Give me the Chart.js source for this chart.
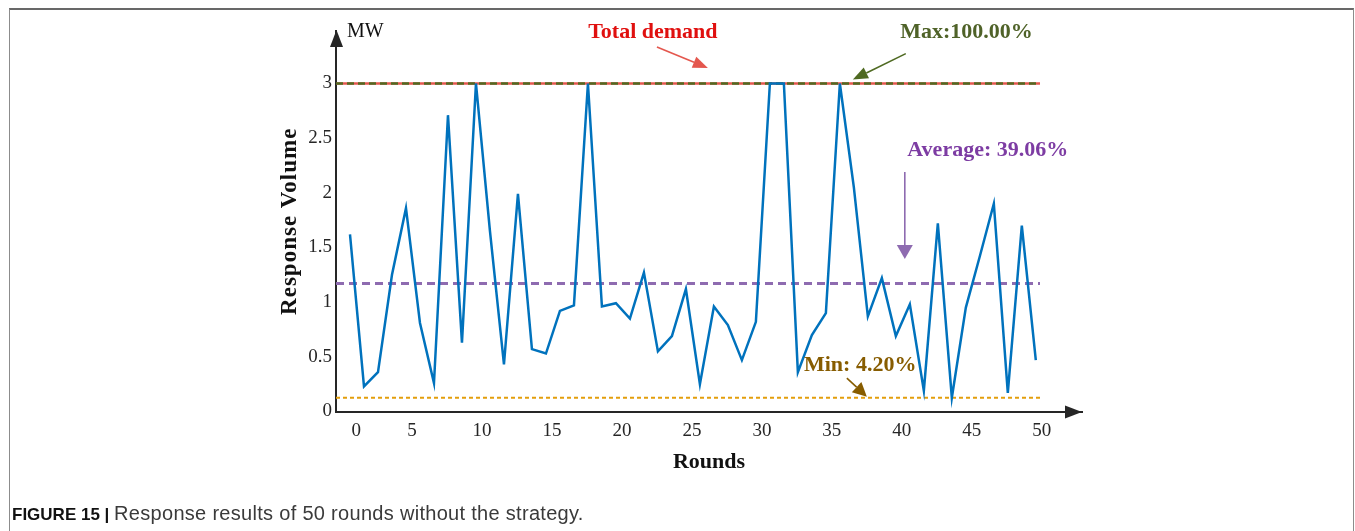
<!DOCTYPE html>
<html>
<head>
<meta charset="utf-8">
<script src="https://cdn.jsdelivr.net/npm/chart.js@4.4.1/dist/chart.umd.min.js"></script>
<style>
  html, body { margin: 0; padding: 0; background: #fff; }
  body { width: 1355px; height: 531px; position: relative; overflow: hidden; }
  #frame { position: absolute; left: 9px; top: 8px; width: 1345px; height: 540px;
           border-top: 2px solid #686868; border-left: 1px solid #8c8c8c; border-right: 1px solid #8c8c8c;
           box-sizing: border-box; }
  #chart { position: absolute; left: 0; top: 0; }
  #caption { position: absolute; left: 12px; top: 502px; white-space: nowrap;
             font-family: "Liberation Sans Narrow", "Liberation Sans", Arial, sans-serif;
             font-size: 17px; color: #3a3a3a; }
  #caption b { color: #111; }
  #caption span { font-size: 20px; letter-spacing: 0.3px; }
</style>
</head>
<body>
<div id="frame"></div>
<canvas id="chart" width="1355" height="531"></canvas>
<div id="caption"><b>FIGURE 15 |</b> <span>Response results of 50 rounds without the strategy.</span></div>
<script>
// Rounds and the response volume (MW) delivered in each round
const rounds = [1, 2, 3, 4, 5, 6, 7, 8, 9, 10,
                11, 12, 13, 14, 15, 16, 17, 18, 19, 20,
                21, 22, 23, 24, 25, 26, 27, 28, 29, 30,
                31, 32, 33, 34, 35, 36, 37, 38, 39, 40,
                41, 42, 43, 44, 45, 46, 47, 48, 49, 50];
const responseMW = [1.62, 0.23, 0.36, 1.25, 1.86, 0.81, 0.26, 2.71, 0.63, 3.00,
                    1.65, 0.43, 1.99, 0.57, 0.53, 0.92, 0.97, 3.00, 0.96, 0.99,
                    0.85, 1.27, 0.55, 0.69, 1.12, 0.25, 0.96, 0.79, 0.47, 0.82,
                    3.00, 3.00, 0.36, 0.70, 0.90, 3.00, 2.05, 0.87, 1.22, 0.69,
                    0.98, 0.19, 1.72, 0.126, 0.95, 1.42, 1.90, 0.17, 1.70, 0.47];

// Total demand and the shares reached (max / average / min)
const totalDemand = 3;
const maxShare = 1.0;
const avgShare = 0.3906;
const minShare = 0.042;
const refSpan = [0, 50.3];

// Axis ticks
const xTickValues = [0, 5, 10, 15, 20, 25, 30, 35, 40, 45, 50];
const xTickLabels = ['      0', '5', '10', '15', '20', '25', '30', '35', '40', '45', '50'];
const yTickValues = [0, 0.5, 1, 1.5, 2, 2.5, 3];
const yTickLabels = ['0', '0.5', '1', '1.5', '2', '2.5', '3'];
const yTitle = 'Response Volume';
const unitLabel = 'MW';

const serif = '"Liberation Serif", "Times New Roman", serif';

function hLine(level) {
  return refSpan.map(v => ({ x: v, y: level }));
}

// Callout texts and arrows, placed in axis units
const notes = [
  { text: 'Total demand',     x: 22.64, y: 3.471, color: '#E0100F' },
  { text: 'Max:100.00%',      x: 45.05, y: 3.471, color: '#4F6228' },
  { text: 'Average: 39.06%',  x: 46.57, y: 2.392, color: '#7D3CA3' },
  { text: 'Min: 4.20%',       x: 37.45, y: 0.425, color: '#875C00' }
];
const arrows = [
  { from: [22.93, 3.334], to: [26.57, 3.142], color: '#E4574E', head: 15, half: 6 },
  { from: [40.71, 3.273], to: [36.93, 3.036], color: '#4F6A22', head: 15, half: 6 },
  { from: [40.64, 2.190], to: [40.64, 1.395], color: '#8E6BB0', head: 14, half: 8 },
  { from: [36.50, 0.306], to: [37.93, 0.136], color: '#875C00', head: 14, half: 7 }
];

function drawArrow(ctx, x0, y0, x1, y1, color, head, half) {
  const ang = Math.atan2(y1 - y0, x1 - x0);
  const bx = x1 - head * Math.cos(ang), by = y1 - head * Math.sin(ang);
  ctx.strokeStyle = color;
  ctx.fillStyle = color;
  ctx.lineWidth = 1.6;
  ctx.setLineDash([]);
  ctx.beginPath();
  ctx.moveTo(x0, y0);
  ctx.lineTo(bx, by);
  ctx.stroke();
  ctx.beginPath();
  ctx.moveTo(x1, y1);
  ctx.lineTo(bx + half * Math.sin(ang), by - half * Math.cos(ang));
  ctx.lineTo(bx - half * Math.sin(ang), by + half * Math.cos(ang));
  ctx.closePath();
  ctx.fill();
}

const calloutPlugin = {
  id: 'callouts',
  afterDatasetsDraw(chart) {
    const { ctx, chartArea, scales: { x, y } } = chart;
    ctx.save();

    // axis arrowheads
    ctx.fillStyle = '#262626';
    ctx.beginPath();
    ctx.moveTo(chartArea.left + 0.5, chartArea.top - 1);
    ctx.lineTo(chartArea.left + 7, chartArea.top + 16);
    ctx.lineTo(chartArea.left - 6, chartArea.top + 16);
    ctx.closePath();
    ctx.fill();
    ctx.beginPath();
    ctx.moveTo(chartArea.right, chartArea.bottom + 0.5);
    ctx.lineTo(chartArea.right - 17, chartArea.bottom - 6);
    ctx.lineTo(chartArea.right - 17, chartArea.bottom + 7);
    ctx.closePath();
    ctx.fill();

    // unit label
    ctx.font = '20px ' + serif;
    ctx.fillStyle = '#111';
    ctx.textAlign = 'left';
    ctx.textBaseline = 'middle';
    ctx.fillText(unitLabel, chartArea.left + 11, chartArea.top + 1);

    // vertical axis title (spaced bold serif)
    ctx.save();
    ctx.translate(y.left + 20, (chartArea.top + chartArea.bottom) / 2);
    ctx.rotate(-Math.PI / 2);
    ctx.font = 'bold 23px ' + serif;
    if ('letterSpacing' in ctx) ctx.letterSpacing = '1px';
    ctx.textAlign = 'center';
    ctx.fillStyle = '#111';
    ctx.fillText(yTitle, 0, 0);
    ctx.restore();

    // callout texts
    ctx.font = 'bold 22px ' + serif;
    ctx.textAlign = 'center';
    ctx.textBaseline = 'middle';
    notes.forEach(n => {
      ctx.fillStyle = n.color;
      ctx.fillText(n.text, x.getPixelForValue(n.x), y.getPixelForValue(n.y));
    });

    arrows.forEach(a => drawArrow(ctx,
      x.getPixelForValue(a.from[0]), y.getPixelForValue(a.from[1]),
      x.getPixelForValue(a.to[0]), y.getPixelForValue(a.to[1]),
      a.color, a.head, a.half));

    ctx.restore();
  }
};

new Chart(document.getElementById('chart'), {
  type: 'line',
  data: {
    datasets: [
      { label: 'Response', data: rounds.map((r, i) => ({ x: r, y: responseMW[i] })),
        borderColor: '#0072BD', borderWidth: 2.5, pointRadius: 0, tension: 0 },
      { label: 'Min', data: hLine(totalDemand * minShare),
        borderColor: '#E39E0C', borderWidth: 2, borderDash: [4, 3], pointRadius: 0 },
      { label: 'Average', data: hLine(totalDemand * avgShare),
        borderColor: '#8E6BB0', borderWidth: 3, borderDash: [8, 5], pointRadius: 0 },
      { label: 'Max', data: hLine(totalDemand * maxShare),
        borderColor: '#4F6A22', borderWidth: 2.5, borderDash: [7, 4], pointRadius: 0 },
      { label: 'Total demand', data: hLine(totalDemand),
        borderColor: '#E4574E', borderWidth: 2.5, pointRadius: 0 }
    ]
  },
  options: {
    responsive: false,
    animation: false,
    events: [],
    layout: { padding: { left: 270, right: 273, top: 31, bottom: 41 } },
    plugins: { legend: { display: false }, tooltip: { enabled: false } },
    scales: {
      x: {
        type: 'linear', min: 0, max: 53.3,
        grid: { display: false, drawTicks: false },
        border: { display: true, color: '#262626', width: 2 },
        afterBuildTicks: s => { s.ticks = xTickValues.map(v => ({ value: v })); },
        afterFit: s => { s.height = 78.5; },
        ticks: {
          autoSkip: false, maxRotation: 0, minRotation: 0, padding: 8, labelOffset: 6,
          color: '#262626', font: { family: serif, size: 19 },
          callback: (v, i) => xTickLabels[i]
        },
        title: {
          display: true, text: 'Rounds', color: '#111',
          font: { family: serif, size: 22, weight: 'bold' },
          padding: { top: 0, bottom: 14 }
        }
      },
      y: {
        type: 'linear', min: 0, max: 3.48,
        grid: { display: false, drawTicks: false },
        border: { display: true, color: '#262626', width: 2 },
        afterBuildTicks: s => { s.ticks = yTickValues.map(v => ({ value: v })); },
        afterFit: s => { s.width = 66; },
        ticks: {
          autoSkip: false, padding: 4,
          color: '#262626', font: { family: serif, size: 19 },
          callback: (v, i) => yTickLabels[i]
        },
        title: { display: false }
      }
    }
  },
  plugins: [calloutPlugin]
});
</script>
</body>
</html>
